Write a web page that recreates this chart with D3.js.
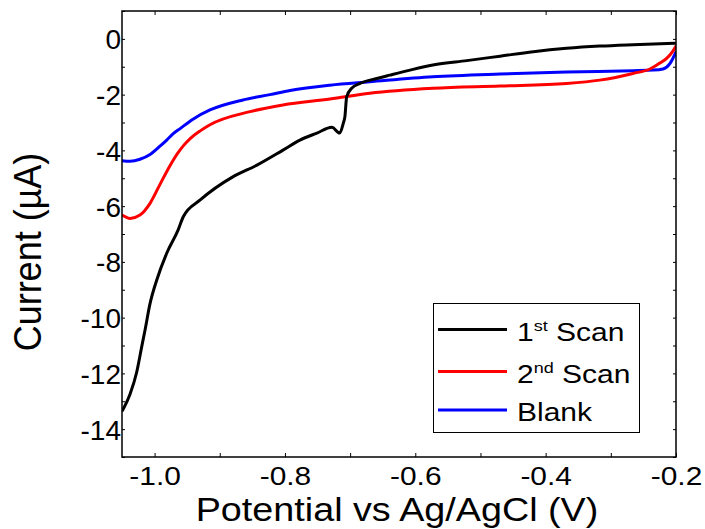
<!DOCTYPE html>
<html>
<head>
<meta charset="utf-8">
<script src="https://cdn.jsdelivr.net/npm/d3@7"></script>
<style>
  html, body { margin: 0; padding: 0; background: #fff; }
  text { font-family: Arial, "Liberation Sans", sans-serif; fill: #000; }
</style>
</head>
<body>
<svg id="chart" width="705" height="529"></svg>
<script>
// ---- data ----
const potential1 = [-1.049, -1.0377, -1.0274, -1.0198, -1.0147, -1.007, -0.9968, -0.9814, -0.964, -0.956, -0.930, -0.880, -0.843, -0.803, -0.777, -0.751, -0.728, -0.716, -0.7105, -0.708, -0.7053, -0.6976, -0.6849, -0.659, -0.639, -0.608, -0.573, -0.521, -0.470, -0.419, -0.368, -0.317, -0.266, -0.202];
const current1   = [-13.32, -12.75, -11.95, -11.05, -10.45, -9.50, -8.66, -7.69, -6.86, -6.38, -5.78, -4.95, -4.53, -3.99, -3.63, -3.38, -3.17, -3.38, -3.03, -2.79, -2.08, -1.77, -1.60, -1.42, -1.30, -1.12, -0.94, -0.78, -0.62, -0.46, -0.34, -0.26, -0.21, -0.16];

const potential2 = [-1.05, -1.0377, -1.0224, -1.007, -0.9917, -0.9764, -0.965, -0.956, -0.945, -0.930, -0.915, -0.8536, -0.803, -0.731, -0.670, -0.573, -0.470, -0.368, -0.317, -0.266, -0.240, -0.225, -0.214, -0.2047, -0.200];
const current2   = [-6.32, -6.44, -6.32, -5.90, -5.22, -4.55, -4.12, -3.84, -3.57, -3.30, -3.08, -2.61, -2.37, -2.16, -1.95, -1.77, -1.69, -1.60, -1.48, -1.24, -1.08, -0.87, -0.69, -0.44, -0.26];

const potentialB = [-1.05, -1.0377, -1.0224, -1.007, -0.9917, -0.9814, -0.9718, -0.9603, -0.9411, -0.915, -0.8644, -0.823, -0.7922, -0.731, -0.670, -0.573, -0.470, -0.368, -0.266, -0.235, -0.220, -0.2097, -0.2052, -0.200];
const currentB   = [-4.37, -4.39, -4.32, -4.15, -3.85, -3.63, -3.41, -3.21, -2.88, -2.55, -2.19, -2.00, -1.85, -1.66, -1.54, -1.36, -1.26, -1.19, -1.14, -1.12, -1.08, -0.90, -0.72, -0.47];

const xTicks = [-1.0, -0.8, -0.6, -0.4, -0.2];
const xMinorTicks = [-1.0, -0.9, -0.8, -0.7, -0.6, -0.5, -0.4, -0.3, -0.2];
const yTicks = [0, -2, -4, -6, -8, -10, -12, -14];
const yMinorTicks = d3.range(1, -16, -1);

const seriesNames = ["1st Scan", "2nd Scan", "Blank"];
const seriesColors = ["#000000", "#ff0000", "#0000ff"];

// ---- layout ----
const svg = d3.select("#chart");
const L = 122, R = 676, T = 11, B = 457;
const x = d3.scaleLinear().domain([-1.05, -0.2]).range([L, R]);
const y = d3.scaleLinear().domain([-15, 1]).range([B, T]);
const SX = 1.15; // horizontal stretch of text in the reference

const series = [
  potential1.map((v, i) => [v, current1[i]]),
  potential2.map((v, i) => [v, current2[i]]),
  potentialB.map((v, i) => [v, currentB[i]])
];

svg.append("defs").append("clipPath").attr("id", "clip")
  .append("rect").attr("x", L).attr("y", T).attr("width", R - L).attr("height", B - T);

const line = d3.line().x(d => x(d[0])).y(d => y(d[1])).curve(d3.curveMonotoneX);

const g = svg.append("g").attr("clip-path", "url(#clip)");
[2, 1, 0].forEach(i => {
  g.append("path").datum(series[i])
    .attr("d", line)
    .attr("fill", "none")
    .attr("stroke", seriesColors[i])
    .attr("stroke-width", 3)
    .attr("stroke-linejoin", "round")
    .attr("stroke-linecap", "round");
});

// minor/major ticks (inward)
const noDomain = s => s.select(".domain").remove();
svg.append("g").attr("transform", `translate(0,${B})`)
  .call(d3.axisBottom(x).tickValues(xMinorTicks).tickSize(-4).tickFormat("")).call(noDomain);
svg.append("g").attr("transform", `translate(${L},0)`)
  .call(d3.axisLeft(y).tickValues(yMinorTicks).tickSize(-3).tickFormat("")).call(noDomain);
svg.append("g").attr("transform", `translate(0,${T})`)
  .call(d3.axisTop(x).tickValues(xMinorTicks).tickSize(-4).tickFormat("")).call(noDomain);
svg.append("g").attr("transform", `translate(${R},0)`)
  .call(d3.axisRight(y).tickValues(yMinorTicks).tickSize(-3).tickFormat("")).call(noDomain);
svg.selectAll(".tick line").attr("stroke", "#000").attr("stroke-width", 1);

// tick labels
const xg = svg.append("g").attr("transform", `translate(0,${B})`)
  .call(d3.axisBottom(x).tickValues(xTicks).tickSize(0).tickPadding(0)
    .tickFormat(d => d3.format(".1f")(d).replace("\u2212", "-")));
xg.select(".domain").remove();
xg.selectAll(".tick text")
  .attr("font-size", 26).attr("dy", null).attr("y", 0)
  .attr("font-family", "Arial, 'Liberation Sans', sans-serif")
  .attr("transform", `translate(0,27.5) scale(${SX},1)`);

const yg = svg.append("g").attr("transform", `translate(${L},0)`)
  .call(d3.axisLeft(y).tickValues(yTicks).tickSize(0).tickPadding(0)
    .tickFormat(d => String(d).replace("\u2212", "-")));
yg.select(".domain").remove();
yg.selectAll(".tick text").attr("font-size", 28).attr("x", -1).attr("dy", "0.36em")
  .attr("font-family", "Arial, 'Liberation Sans', sans-serif");

// frame
svg.append("rect").attr("x", L).attr("y", T).attr("width", R - L).attr("height", B - T)
  .attr("fill", "none").attr("stroke", "#000").attr("stroke-width", 1.5);

// axis titles
svg.append("text").attr("transform", `translate(${(L + R) / 2 - 2},521) scale(1.11,1)`)
  .attr("text-anchor", "middle").attr("font-size", 34).text("Potential vs Ag/AgCl (V)");
svg.append("text").attr("transform", "translate(41,252) rotate(-90) scale(1,1.08)")
  .attr("text-anchor", "middle").attr("font-size", 36).text("Current (\u00B5A)");

// legend
const lg = svg.append("g");
lg.append("rect").attr("x", 433.5).attr("y", 303.5).attr("width", 206).attr("height", 129)
  .attr("fill", "#fff").attr("stroke", "#000").attr("stroke-width", 1);
const legY = [329.5, 371.5, 410];
const legLabels = [["1", "st", " Scan"], ["2", "nd", " Scan"], ["Blank", "", ""]];
legLabels.forEach((lab, i) => {
  lg.append("line").attr("x1", 438).attr("x2", 507).attr("y1", legY[i]).attr("y2", legY[i])
    .attr("stroke", seriesColors[i]).attr("stroke-width", 3);
  const t = lg.append("text")
    .attr("transform", `translate(517,${legY[i] + 11}) scale(1.2,1)`)
    .attr("font-size", 25);
  t.append("tspan").text(lab[0]);
  if (lab[1]) {
    t.append("tspan").attr("font-size", 15).attr("dy", -10).text(lab[1]);
    t.append("tspan").attr("dy", 10).text(lab[2]);
  }
});
</script>
</body>
</html>
